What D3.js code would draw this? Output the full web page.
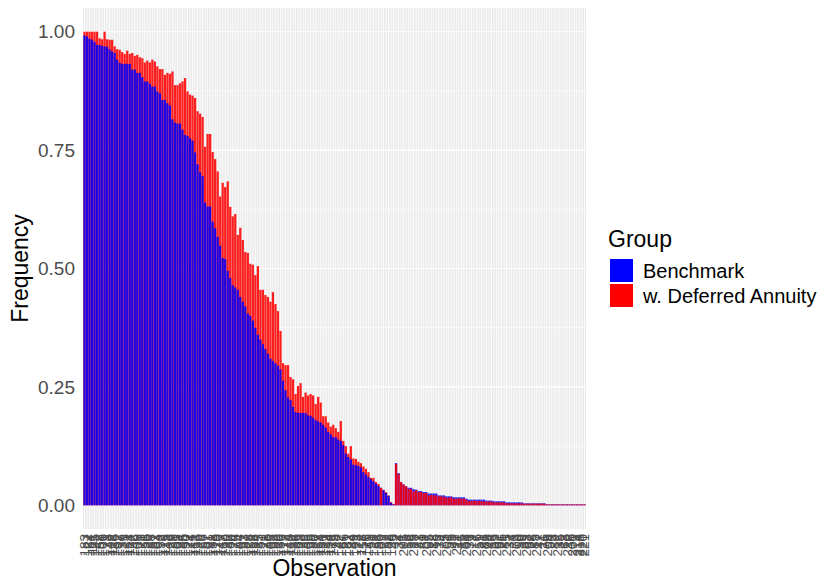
<!DOCTYPE html>
<html>
<head>
<meta charset="utf-8">
<title>Frequency by observation</title>
<script src="https://d3js.org/d3.v7.min.js"></script>
<style>
  html, body { margin: 0; background: #fff; }
  svg { font-family: "Liberation Sans", Arial, Helvetica, sans-serif; }
</style>
</head>
<body>
<svg id="chart" width="822" height="580"></svg>
<script>
"use strict";

// legend groups
const groups = ["Benchmark", "w. Deferred Annuity"];
const groupColors = ["#0000FF", "#FF0000"];

// frequency per observation, Benchmark
const benchmark = [
  0.992,0.990,0.985,0.983,0.978,0.972,0.972,0.970,0.969,0.968,
  0.963,0.958,0.955,0.941,0.934,0.932,0.932,0.932,0.932,0.920,
  0.920,0.913,0.913,0.904,0.895,0.895,0.890,0.884,0.884,0.874,
  0.870,0.856,0.856,0.849,0.844,0.815,0.808,0.806,0.806,0.793,
  0.782,0.780,0.775,0.770,0.745,0.720,0.703,0.695,0.639,0.631,
  0.631,0.599,0.585,0.567,0.548,0.522,0.520,0.495,0.480,0.465,
  0.460,0.455,0.440,0.430,0.420,0.405,0.400,0.390,0.375,0.360,
  0.350,0.340,0.330,0.320,0.310,0.305,0.300,0.295,0.287,0.263,
  0.243,0.228,0.222,0.208,0.197,0.195,0.195,0.195,0.195,0.190,
  0.189,0.185,0.180,0.177,0.175,0.170,0.164,0.155,0.150,0.144,
  0.144,0.139,0.136,0.127,0.109,0.102,0.097,0.086,0.085,0.083,
  0.080,0.070,0.065,0.060,0.055,0.051,0.046,0.041,0.037,0.032,
  0.026,0.020,0.005,0.002,
  0.089,0.068,0.049,0.044,0.040,0.037,0.037,0.034,0.033,0.030,
  0.030,0.028,0.028,0.025,0.025,0.025,0.025,0.021,0.021,0.021,
  0.019,0.019,0.019,0.017,0.017,0.017,0.017,0.017,0.014,0.012,
  0.012,0.012,0.012,0.012,0.012,0.012,0.010,0.010,0.010,0.0085,
  0.0085,0.0085,0.0085,0.0085,0.0063,0.0063,0.0063,0.0063,0.0063,0.0063,
  0.0063,0.0042,0.0042,0.0042,0.0042,0.0042,0.0042,0.0042,0.0042,0.0042,
  0.002,0.002,0.002,0.002,0.002,0.002,0.002,0.002,0.002,0.002,
  0.002,0.002,0.002,0.002,0.002,0.002
];

// frequency per observation, w. Deferred Annuity
const deferred = [
  1.000,1.000,1.000,1.000,1.000,1.000,0.986,0.984,1.000,0.984,
  0.983,0.983,0.969,0.963,0.962,0.957,0.953,0.960,0.953,0.955,
  0.949,0.951,0.946,0.944,0.935,0.939,0.935,0.941,0.937,0.927,
  0.921,0.921,0.909,0.913,0.911,0.916,0.887,0.887,0.891,0.895,
  0.902,0.874,0.867,0.865,0.860,0.832,0.827,0.820,0.757,0.784,
  0.784,0.746,0.731,0.705,0.652,0.681,0.672,0.684,0.630,0.610,
  0.615,0.571,0.586,0.560,0.535,0.533,0.510,0.508,0.486,0.505,
  0.455,0.455,0.444,0.440,0.430,0.450,0.425,0.410,0.368,0.300,
  0.296,0.296,0.271,0.266,0.235,0.252,0.258,0.229,0.238,0.232,
  0.235,0.232,0.214,0.229,0.217,0.188,0.188,0.175,0.166,0.170,
  0.163,0.155,0.178,0.136,0.125,0.109,0.125,0.099,0.098,0.092,
  0.089,0.082,0.077,0.070,0.058,0.058,0.049,0.045,0.037,0.033,
  0.028,0.021,0.007,0.003,
  0.087,0.066,0.049,0.044,0.040,0.035,0.035,0.029,0.032,0.028,
  0.028,0.026,0.026,0.021,0.022,0.021,0.021,0.019,0.019,0.018,
  0.016,0.016,0.017,0.014,0.014,0.015,0.014,0.014,0.012,0.009,
  0.009,0.010,0.009,0.009,0.009,0.008,0.008,0.008,0.008,0.0063,
  0.0063,0.0063,0.0063,0.0063,0.0042,0.0042,0.0042,0.0042,0.0042,0.0042,
  0.0042,0.0035,0.0035,0.0035,0.0035,0.0035,0.0035,0.0035,0.0035,0.0035,
  0.002,0.002,0.002,0.002,0.002,0.002,0.002,0.002,0.002,0.002,
  0.002,0.002,0.002,0.002,0.002,0.002
];

// observation ids shown under the bars
const obsLabels = [
  "183","127","164","111","195","142","158","106","171","133",
  "149","118","186","102","177","139","125","161","114","192",
  "146","108","173","131","155","120","188","137","167","104",
  "152","179","115","143","126","198","161","109","134","185",
  "150","122","174","141","113","196","129","166","157","101",
  "181","138","119","170","147","112","190","132","160","124",
  "176","144","107","153","187","128","169","116","194","135",
  "151","121","178","140","103","163","189","130","156","117",
  "172","148","110","184","136","165","123","199","145","105",
  "159","180","127","168","114","191","139","154","119","175",
  "98","142","187","66","131","162","84","149","193","72",
  "118","57","176","143","91","129","63","185","109","77",
  "152","88","136","45",
  "2","34","71","205","18","52","96","213","27","83",
  "41","9","207","65","12","88","219","39","74","5",
  "201","56","23","92","211","47","15","68","204","31",
  "79","7","216","59","21","86","208","44","13","95",
  "202","61","26","81","215","37","4","73","209","50",
  "19","99","203","67","28","85","217","42","11","76",
  "206","54","3","89","212","35","22","63","210","48",
  "200","1","214","218","220","221"
];

const yTicks = [0, 0.25, 0.5, 0.75, 1];
const yMinor = [0.125, 0.375, 0.625, 0.875];

const svg = d3.select("#chart");
const panel = {left: 83, right: 586, top: 8, bottom: 529};
const barAlpha = 0.88;

const x = d3.scaleBand()
    .domain(d3.range(benchmark.length))
    .range([panel.left, panel.right])
    .paddingInner(0.1)
    .paddingOuter(0.15);

const y = d3.scaleLinear()
    .domain([-0.05, 1.05])
    .range([panel.bottom, panel.top]);

// panel background + grid
svg.append("rect")
    .attr("x", panel.left).attr("y", panel.top)
    .attr("width", panel.right - panel.left)
    .attr("height", panel.bottom - panel.top)
    .attr("fill", "#EBEBEB");

const grid = svg.append("g");
grid.selectAll(".minor").data(yMinor).join("line")
    .attr("x1", panel.left).attr("x2", panel.right)
    .attr("y1", d => y(d)).attr("y2", d => y(d))
    .attr("stroke", "#fff").attr("stroke-width", 0.6);
grid.selectAll(".vgrid").data(x.domain()).join("line")
    .attr("x1", d => x(d) + x.bandwidth() / 2).attr("x2", d => x(d) + x.bandwidth() / 2)
    .attr("y1", panel.top).attr("y2", panel.bottom)
    .attr("stroke", "#fff").attr("stroke-width", 0.8);
grid.selectAll(".major").data(yTicks).join("line")
    .attr("x1", panel.left).attr("x2", panel.right)
    .attr("y1", d => y(d)).attr("y2", d => y(d))
    .attr("stroke", "#fff").attr("stroke-width", 1.1);

// bars overlap (identity position); the taller one is drawn first
const rows = [];
benchmark.forEach((b, i) => {
    const pair = [
        {obs: i, group: 0, value: b},
        {obs: i, group: 1, value: deferred[i]}
    ];
    if (deferred[i] > b) pair.reverse();
    rows.push(...pair);
});

svg.append("g").selectAll("rect").data(rows).join("rect")
    .attr("x", d => x(d.obs))
    .attr("width", x.bandwidth())
    .attr("y", d => y(d.value))
    .attr("height", d => y(0) - y(d.value))
    .attr("fill", d => groupColors[d.group])
    .attr("fill-opacity", barAlpha);

// axes
const yAxis = svg.append("g")
    .attr("transform", `translate(${panel.left},0)`)
    .call(d3.axisLeft(y).tickValues(yTicks).tickFormat(d3.format(".2f")).tickSize(0).tickPadding(8));
yAxis.select(".domain").remove();
yAxis.selectAll("text")
    .attr("fill", "#4D4D4D")
    .style("font-size", "19px");

const xAxis = svg.append("g")
    .attr("transform", `translate(0,${panel.bottom})`)
    .call(d3.axisBottom(x).tickFormat(i => obsLabels[i]).tickSize(0));
xAxis.select(".domain").remove();
xAxis.selectAll("text")
    .attr("x", -5)
    .attr("y", 0)
    .attr("dy", "0.35em")
    .attr("transform", "rotate(-90)")
    .style("text-anchor", "end")
    .style("font-size", "13.5px")
    .attr("fill", "#4D4D4D");

// axis titles
svg.append("text")
    .attr("x", (panel.left + panel.right) / 2)
    .attr("y", 576)
    .attr("text-anchor", "middle")
    .style("font-size", "23px")
    .text("Observation");

svg.append("text")
    .attr("transform", `translate(28,${(panel.top + panel.bottom) / 2}) rotate(-90)`)
    .attr("text-anchor", "middle")
    .style("font-size", "23px")
    .text("Frequency");

// legend
const legend = svg.append("g").attr("transform", "translate(608,0)");
legend.append("text")
    .attr("x", 0).attr("y", 247)
    .style("font-size", "23px")
    .text("Group");
const keys = legend.selectAll(".key").data(groups).join("g")
    .attr("transform", (d, i) => `translate(2,${259 + i * 25})`);
keys.append("rect")
    .attr("width", 23).attr("height", 23)
    .attr("fill", (d, i) => groupColors[i]);
keys.append("text")
    .attr("x", 33).attr("y", 11.5)
    .attr("dy", "0.35em")
    .style("font-size", "20px")
    .text(d => d);
</script>
</body>
</html>
